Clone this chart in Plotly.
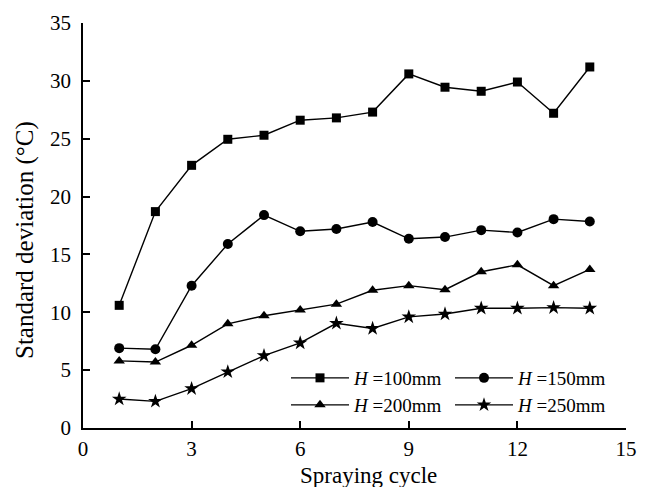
import plotly.graph_objects as go

cycles = list(range(1, 15))
h100 = [10.6, 18.7, 22.7, 24.95, 25.3, 26.6, 26.8, 27.3, 30.6, 29.45, 29.1, 29.9, 27.2, 31.2]
h150 = [6.9, 6.8, 12.3, 15.9, 18.4, 17.0, 17.2, 17.8, 16.35, 16.5, 17.1, 16.9, 18.05, 17.85]
h200 = [5.8, 5.7, 7.15, 9.0, 9.7, 10.2, 10.7, 11.9, 12.3, 11.95, 13.5, 14.1, 12.3, 13.7]
h250 = [2.5, 2.3, 3.4, 4.85, 6.25, 7.35, 9.05, 8.6, 9.6, 9.85, 10.35, 10.35, 10.4, 10.35]
series_names = ["<i>H</i> =100mm", "<i>H</i> =150mm", "<i>H</i> =200mm", "<i>H</i> =250mm"]
symbols = ["square", "circle", "triangle-up", "star"]
sizes = [9, 10, 10, 11]
legends = ["legend", "legend2", "legend3", "legend4"]
x_ticks = [0, 3, 6, 9, 12, 15]
y_ticks = [0, 5, 10, 15, 20, 25, 30, 35]

FONT = "Liberation Serif"
fig = go.Figure()
for ys, name, sym, sz, lg in zip([h100, h150, h200, h250], series_names, symbols, sizes, legends):
    fig.add_trace(go.Scatter(
        x=cycles, y=ys, name=name, mode="lines+markers",
        line=dict(color="black", width=1.4),
        marker=dict(symbol=sym, size=sz, color="black", line=dict(width=0)),
        legend=lg,
    ))

axis_common = dict(
    showline=True, linecolor="black", linewidth=1.5,
    ticks="inside", ticklen=7, tickwidth=1.5, tickcolor="black",
    showgrid=False, zeroline=False,
    tickfont=dict(family=FONT, size=21, color="black"),
)
fig.update_xaxes(range=[0, 15], tickvals=x_ticks, ticklabelstandoff=1, **axis_common)
fig.update_yaxes(range=[0, 35], tickvals=y_ticks, ticklabelstandoff=6, **axis_common)

leg_common = dict(orientation="v", xanchor="left", yanchor="middle",
                  font=dict(family=FONT, size=19, color="black"),
                  bgcolor="rgba(0,0,0,0)", itemwidth=58)
W, H = 649, 487
L, R, T, B = 83, 23, 23, 59
pw, ph = W - L - R, H - T - B
def px(x):
    return (x - L) / pw
def py(y):
    return (H - B - y) / ph

fig.update_layout(
    width=W, height=H,
    margin=dict(l=L, r=R, t=T, b=B),
    plot_bgcolor="white", paper_bgcolor="white",
    font=dict(family=FONT, color="black"),
    showlegend=True,
    legend=dict(x=px(286), y=py(378), **leg_common),
    legend2=dict(x=px(450), y=py(378), **leg_common),
    legend3=dict(x=px(286), y=py(405), **leg_common),
    legend4=dict(x=px(450), y=py(405), **leg_common),
    annotations=[
        dict(text="Spraying cycle", x=px(368), y=py(475), xref="paper", yref="paper",
             xanchor="center", yanchor="middle", showarrow=False,
             font=dict(family=FONT, size=23, color="black")),
        dict(text="Standard deviation (°C)", x=px(25), y=py(240), xref="paper", yref="paper",
             xanchor="center", yanchor="middle", showarrow=False, textangle=-90,
             font=dict(family=FONT, size=25, color="black")),
    ],
)
fig.write_html("out.html")
